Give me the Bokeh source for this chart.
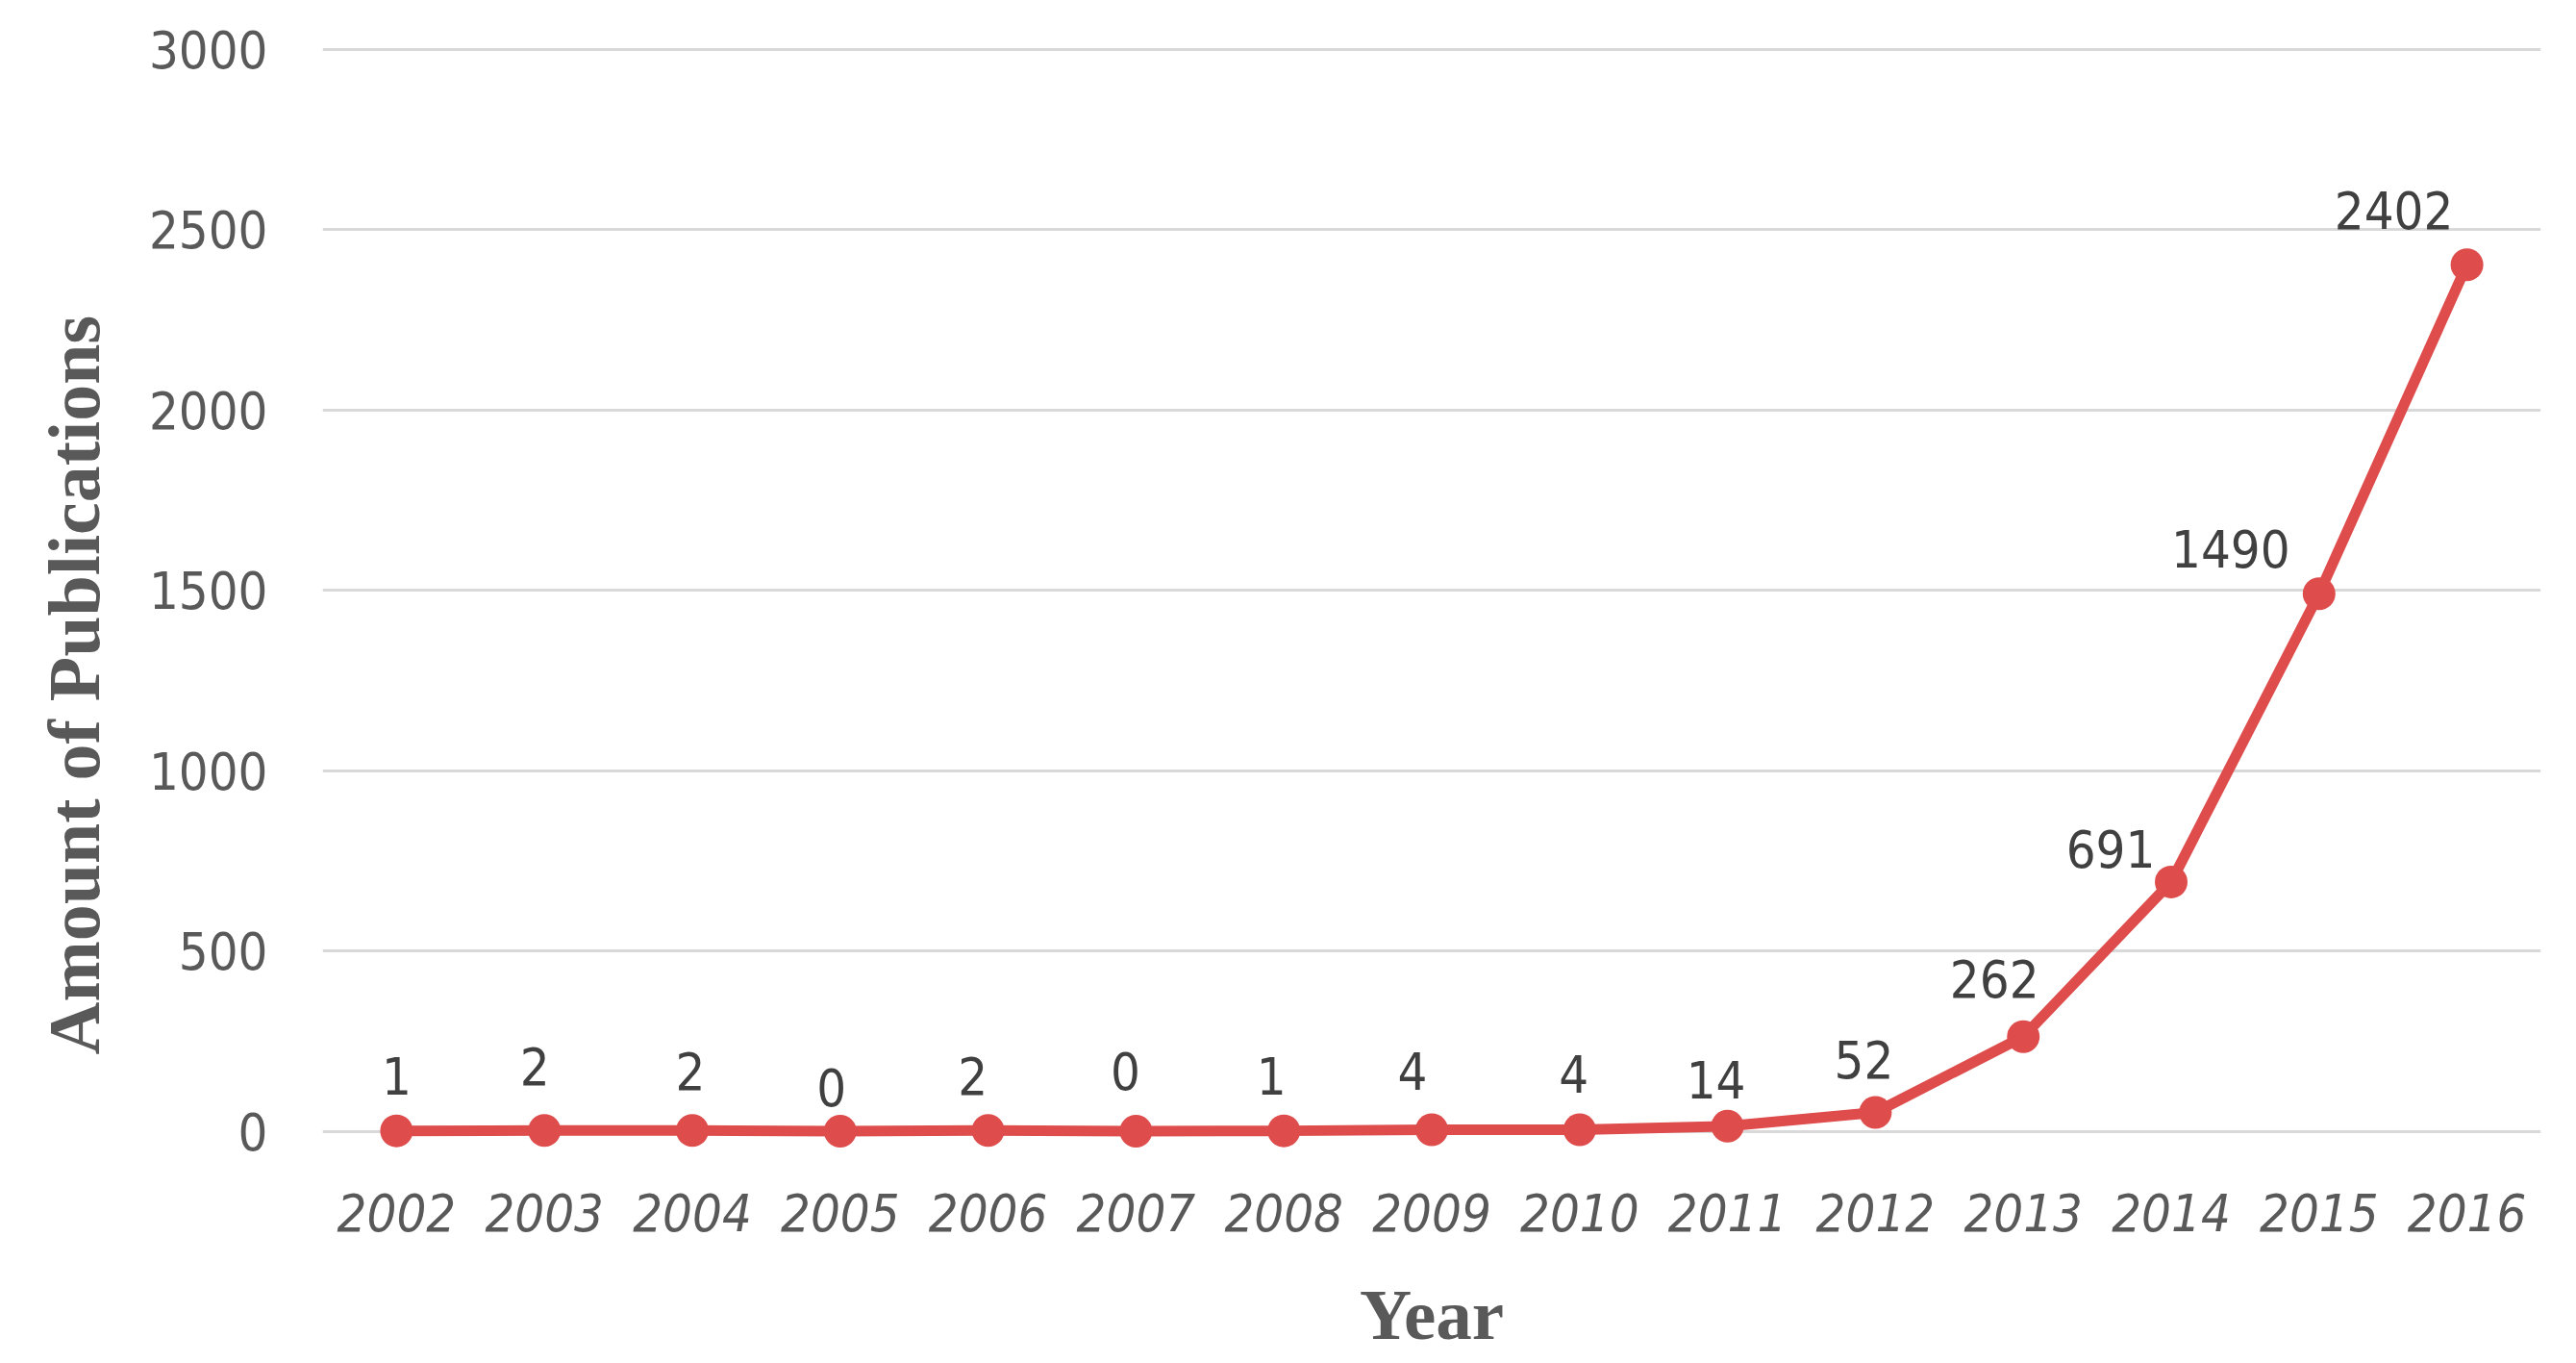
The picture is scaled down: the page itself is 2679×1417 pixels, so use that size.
from bokeh.plotting import figure
from bokeh.models import FactorRange, Range1d, FixedTicker, ColumnDataSource, Title
from bokeh.core.properties import value
from bokeh.embed import file_html
from bokeh.resources import INLINE

# ---- data ----
years = ["2002", "2003", "2004", "2005", "2006", "2007", "2008", "2009",
         "2010", "2011", "2012", "2013", "2014", "2015", "2016"]
publications = [1, 2, 2, 0, 2, 0, 1, 4, 4, 14, 52, 262, 691, 1490, 2402]
y_ticks = [0, 500, 1000, 1500, 2000, 2500, 3000]
x_title = "Year"
y_title = "Amount of Publications"

# ---- label placement (style only, screen pixels) ----
label_dx = [0, -10, -2, -9, -16, -11, -13, -20, -6, -12, -12, -30, -63, -92, -76]
label_dy = [-57, -67, -62, -46, -57, -63, -57, -61, -58, -48, -55, -60, -34, -47, -57]

NARROW = "DejaVu Sans Condensed"
RED = "#DE4C4C"

src = ColumnDataSource(dict(
    year=years, n=publications, lab=[str(v) for v in publications],
    dx=label_dx, dy=label_dy))

p = figure(width=2670, height=1410, output_backend="svg", toolbar_location=None,
           x_range=FactorRange(factors=years, range_padding=0),
           y_range=Range1d(-100, 3100),
           min_border_left=335, min_border_right=28, min_border_top=13,
           min_border_bottom=193)
p.outline_line_color = None
p.background_fill_color = "white"
p.border_fill_color = "white"

p.xgrid.grid_line_color = None
p.ygrid.grid_line_color = "#D9D9D9"
p.ygrid.grid_line_width = 3

p.yaxis.ticker = FixedTicker(ticks=y_ticks)
for ax in (p.xaxis[0], p.yaxis[0]):
    ax.axis_line_color = None
    ax.major_tick_line_color = None
    ax.minor_tick_line_color = None
    ax.major_label_text_color = "#595959"
    ax.major_label_text_font = NARROW
    ax.major_label_text_font_size = "54px"

p.yaxis.major_label_standoff = 51
p.xaxis.major_label_standoff = 21
p.xaxis.major_label_text_font_style = "italic"
p.xaxis.axis_label = x_title
p.xaxis.axis_label_text_font = "Liberation Serif"
p.xaxis.axis_label_text_font_style = "bold"
p.xaxis.axis_label_text_font_size = "75px"
p.xaxis.axis_label_text_color = "#595959"
p.xaxis.axis_label_standoff = 42

# y-axis title, placed lower than the frame centre as in the original
ytitle = Title(text=y_title, align="left", vertical_align="top", offset=117,
               standoff=62, text_font="Liberation Serif", text_font_style="bold",
               text_font_size="76px", text_color="#595959")
p.add_layout(ytitle, "left")

p.line("year", "n", source=src, line_color=RED, line_width=11)
p.scatter("year", "n", source=src, size=34, fill_color=RED, line_color=None)
p.text("year", "n", text="lab", source=src, x_offset="dx", y_offset="dy",
       text_align="center", text_baseline="middle",
       text_font=value(NARROW), text_font_size="54px",
       text_color="#404040")

open("out.html", "w").write(file_html(p, INLINE))
